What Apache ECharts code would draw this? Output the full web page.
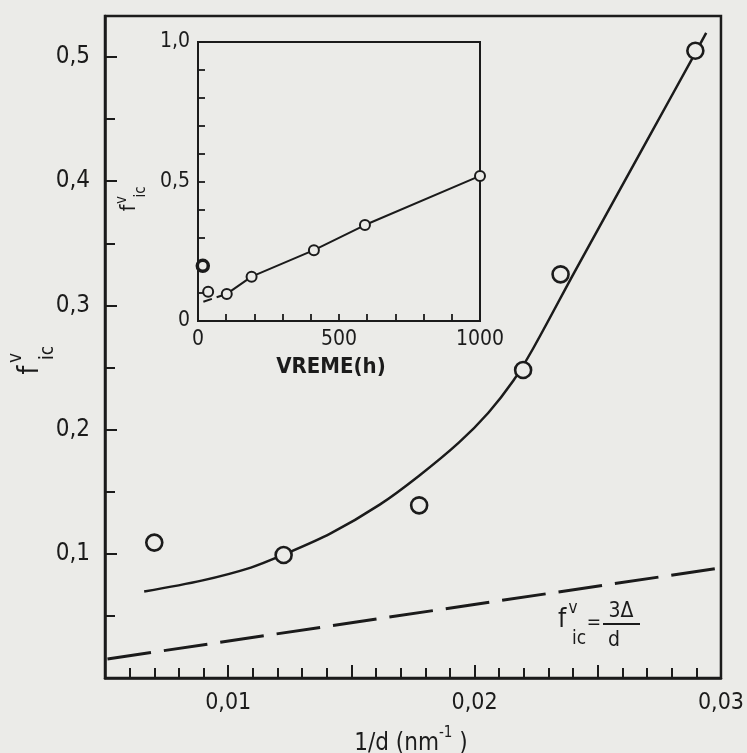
<!DOCTYPE html>
<html>
<head>
<meta charset="utf-8">
<script src="https://cdn.jsdelivr.net/npm/echarts@6/dist/echarts.min.js"></script>
<style>
html,body{margin:0;padding:0;background:#ebebe8;}
#c{width:747px;height:753px;}
</style>
</head>
<body>
<div id="c"></div>
<script>
// ---- main plot data (1/d in nm^-1, f_ic^v) ----
const mainCircleX = [0.0070, 0.01225, 0.01775, 0.02197, 0.02349, 0.02896];
const mainCircleY = [0.109, 0.099, 0.139, 0.248, 0.325, 0.505];
const curveX = [0.00659, 0.00892, 0.01092, 0.01225, 0.01414, 0.01615, 0.01775, 0.01936, 0.02056, 0.02157, 0.02237, 0.02406, 0.02699, 0.02900, 0.02940];
const curveY = [0.0696, 0.0784, 0.0889, 0.0993, 0.1162, 0.1396, 0.1629, 0.1895, 0.2136, 0.2393, 0.2651, 0.3270, 0.4324, 0.5048, 0.5194];
const dashX = [0.0051, 0.03];
const dashY = [0.0153, 0.0887];
const mainXTickLabels = ['0,01', '0,02', '0,03'];
const mainYTickLabels = ['0,1', '0,2', '0,3', '0,4', '0,5'];
// ---- inset data (VREME in h) ----
const insetHours = [17, 36, 102, 190, 411, 592, 1000];
const insetVals = [0.198, 0.105, 0.097, 0.159, 0.254, 0.344, 0.52];
const insetLineHours = [102, 190, 411, 592, 1000];
const insetLineVals = [0.097, 0.159, 0.254, 0.344, 0.52];
const insetDashHours = [19, 102];
const insetDashVals = [0.069, 0.097];
const insetXTickLabels = ['0', '500', '1000'];
const insetYTickLabels = ['0', '0,5', '1,0'];

const INK = '#1b1b1b';
const BG = '#ebebe8';
const FONT = '"DejaVu Sans Condensed", "DejaVu Sans", sans-serif';

const zip = (a, b) => a.map((v, i) => [v, b[i]]);

function fLabel(x, y, rot, fs, sfs, vOff, icOff) {
  return {
    type: 'group', x: x, y: y, rotation: rot,
    children: [
      {type: 'text', x: 0, y: 0, style: {text: 'f', font: fs + 'px ' + FONT, fill: INK, align: 'center', verticalAlign: 'middle'}},
      {type: 'text', x: vOff[0], y: vOff[1], style: {text: 'v', font: sfs + 'px ' + FONT, fill: INK, align: 'center', verticalAlign: 'middle'}},
      {type: 'text', x: icOff[0], y: icOff[1], style: {text: 'ic', font: sfs + 'px ' + FONT, fill: INK, align: 'center', verticalAlign: 'middle'}}
    ]
  };
}

const chart = echarts.init(document.getElementById('c'), null, {renderer: 'canvas'});

const mainYFmt = v => {
  const k = Math.round(v * 10);
  if (k >= 1 && k <= 5 && Math.abs(v * 10 - k) < 1e-6) return mainYTickLabels[k - 1];
  return '';
};
const mainXFmt = v => {
  const k = Math.round(v * 100);
  if (k >= 1 && k <= 3 && Math.abs(v * 100 - k) < 1e-6) return mainXTickLabels[k - 1];
  return '';
};
const insetXFmt = v => {
  const k = Math.round(v / 500);
  if (Math.abs(v - k * 500) < 1e-6) return insetXTickLabels[k];
  return '';
};
const insetYFmt = v => {
  const k = Math.round(v * 2);
  if (Math.abs(v * 2 - k) < 1e-6) return insetYTickLabels[k];
  return '';
};

const insetPoints = zip(insetHours, insetVals).map((p, i) => i === 0
  ? {value: p, itemStyle: {borderWidth: 3.5}, symbolSize: 11}
  : {value: p});

const option = {
  backgroundColor: BG,
  animation: false,
  grid: [
    {left: 105, right: 22, top: 16, bottom: 75, show: true, borderColor: INK, borderWidth: 2.5, backgroundColor: 'transparent'},
    {left: 198, top: 42, width: 282, height: 279, show: true, borderColor: INK, borderWidth: 2, backgroundColor: 'transparent'}
  ],
  xAxis: [
    {
      gridIndex: 0, type: 'value', min: 0.005, max: 0.03, interval: 0.005,
      axisLine: {show: true, lineStyle: {color: INK, width: 2.5}},
      axisTick: {show: true, inside: true, length: 13, lineStyle: {color: INK, width: 2}},
      minorTick: {show: true, splitNumber: 5, length: 10, lineStyle: {color: INK, width: 2}},
      splitLine: {show: false},
      axisLabel: {formatter: mainXFmt, color: INK, fontSize: 23, fontFamily: FONT, margin: 14}
    },
    {
      gridIndex: 1, type: 'value', min: 0, max: 1000, interval: 100,
      axisLine: {show: true, lineStyle: {color: INK, width: 2}},
      axisTick: {show: true, inside: true, length: 7, lineStyle: {color: INK, width: 1.8}},
      splitLine: {show: false},
      axisLabel: {formatter: insetXFmt, color: INK, fontSize: 21, fontFamily: FONT, margin: 8, showMinLabel: true, showMaxLabel: true}
    }
  ],
  yAxis: [
    {
      gridIndex: 0, type: 'value', min: 0, max: 0.533, interval: 0.1,
      axisLine: {show: true, lineStyle: {color: INK, width: 2.5}},
      axisTick: {show: true, inside: true, length: 12, lineStyle: {color: INK, width: 2}},
      minorTick: {show: true, splitNumber: 2, length: 10, lineStyle: {color: INK, width: 2}},
      splitLine: {show: false},
      axisLabel: {formatter: mainYFmt, color: INK, fontSize: 24, fontFamily: FONT, margin: 15}
    },
    {
      gridIndex: 1, type: 'value', min: 0, max: 1, interval: 0.1,
      axisLine: {show: true, lineStyle: {color: INK, width: 2}},
      axisTick: {show: true, inside: true, length: 7, lineStyle: {color: INK, width: 1.8}},
      splitLine: {show: false},
      axisLabel: {formatter: insetYFmt, color: INK, fontSize: 21, fontFamily: FONT, margin: 8, showMinLabel: true, showMaxLabel: true}
    }
  ],
  series: [
    {
      type: 'line', xAxisIndex: 0, yAxisIndex: 0, data: zip(dashX, dashY),
      symbol: 'none', lineStyle: {color: INK, width: 3, type: [44, 13]}, z: 2
    },
    {
      type: 'line', xAxisIndex: 0, yAxisIndex: 0, data: zip(curveX, curveY),
      smooth: 0.3, symbol: 'none', lineStyle: {color: INK, width: 2.5}, z: 2
    },
    {
      type: 'scatter', xAxisIndex: 0, yAxisIndex: 0, data: zip(mainCircleX, mainCircleY),
      symbol: 'circle', symbolSize: 16,
      itemStyle: {color: BG, borderColor: INK, borderWidth: 2.6, opacity: 1}, z: 3
    },
    {
      type: 'line', xAxisIndex: 1, yAxisIndex: 1, data: zip(insetDashHours, insetDashVals),
      symbol: 'none', lineStyle: {color: INK, width: 2, type: [9, 5]}, z: 2
    },
    {
      type: 'line', xAxisIndex: 1, yAxisIndex: 1, data: zip(insetLineHours, insetLineVals),
      symbol: 'none', lineStyle: {color: INK, width: 2}, z: 2
    },
    {
      type: 'scatter', xAxisIndex: 1, yAxisIndex: 1, data: insetPoints,
      symbol: 'circle', symbolSize: 10,
      itemStyle: {color: BG, borderColor: INK, borderWidth: 2, opacity: 1}, z: 3
    }
  ],
  graphic: [
    // main y title (rotated)
    fLabel(31, 370, Math.PI / 2, 28, 19, [12, -15], [17, 17]),
    // inset y title (rotated)
    fLabel(130, 208, Math.PI / 2, 21, 15, [8, -8], [16, 11]),
    // x titles
    {
      type: 'text', x: 411, y: 741,
      style: {
        text: '{a|1/d (nm}{s|-1}{a| )}',
        align: 'center', verticalAlign: 'middle',
        rich: {
          a: {fontSize: 24, fontFamily: FONT, fill: INK, color: INK, verticalAlign: 'bottom', lineHeight: 30},
          s: {fontSize: 15, fontFamily: FONT, fill: INK, color: INK, verticalAlign: 'top', lineHeight: 30}
        }
      }
    },
    {
      type: 'text', x: 331, y: 367,
      style: {text: 'VREME(h)', font: 'bold 22px ' + FONT, fill: INK, align: 'center', verticalAlign: 'middle'}
    },
    // formula f_ic^v = 3Δ/d
    {type: 'text', x: 562, y: 620, style: {text: 'f', font: '26px ' + FONT, fill: INK, align: 'center', verticalAlign: 'middle'}},
    {type: 'text', x: 573, y: 609, style: {text: 'v', font: '17px ' + FONT, fill: INK, align: 'center', verticalAlign: 'middle'}},
    {type: 'text', x: 579, y: 639, style: {text: 'ic', font: '19px ' + FONT, fill: INK, align: 'center', verticalAlign: 'middle'}},
    {type: 'text', x: 594, y: 623, style: {text: '=', font: '19px ' + FONT, fill: INK, align: 'center', verticalAlign: 'middle'}},
    {type: 'text', x: 621, y: 612, style: {text: '3Δ', font: '21px ' + FONT, fill: INK, align: 'center', verticalAlign: 'middle'}},
    {type: 'line', shape: {x1: 603, y1: 624, x2: 640, y2: 624}, style: {stroke: INK, lineWidth: 2}},
    {type: 'text', x: 614, y: 641, style: {text: 'd', font: '21px ' + FONT, fill: INK, align: 'center', verticalAlign: 'middle'}}
  ]
};
chart.setOption(option);
</script>
</body>
</html>
